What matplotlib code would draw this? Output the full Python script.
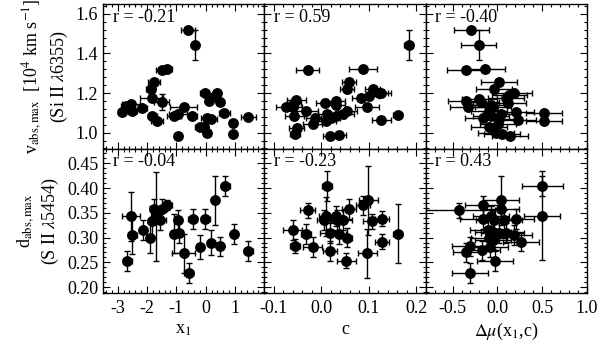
import matplotlib
matplotlib.use("Agg")
import matplotlib.pyplot as plt
from matplotlib.ticker import MultipleLocator, FixedLocator

plt.rcParams['font.family'] = ['Liberation Serif', 'DejaVu Serif']
plt.rcParams['mathtext.fontset'] = 'stix'

# ---------------- data ----------------
# top row: v_abs,max vs x1
tl_x = [-2.85, -2.70, -2.55, -2.50, -2.16, -1.87, -1.84, -1.76, -1.50, -1.82, -1.65, -1.48, -1.31, -1.08,
        -0.94, -0.75, -0.46, -0.94, -0.60, -0.35, -0.03, 0.31, 0.38, 0.10, 0.50, 0.05, 0.19, 0.64, 0.92,
        0.93, 1.46, -0.21, -0.07, 0.05]
tl_y = [1.105, 1.135, 1.145, 1.110, 1.126, 1.222, 1.175, 1.258, 1.154, 1.084, 1.060, 1.316, 1.321, 1.084,
        1.093, 1.129, 1.084, 0.985, 1.520, 1.443, 1.200, 1.184, 1.200, 1.162, 1.154, 1.076, 1.068, 1.101,
        1.051, 0.993, 1.079, 1.030, 1.030, 0.997]
tl_xe = [0.15, 0.20, 0.30, 0.15, 0.15, 0.15, 0.40, 0.20, 0.25, 0.15, 0.20, 0.20, 0.15, 0.25,
         0.30, 0.45, 0.15, 0.10, 0.25, 0.05, 0.15, 0.15, 0.10, 0.10, 0.10, 0.20, 0.20, 0.20, 0.05,
         0.05, 0.25, 0.15, 0.15, 0.10]
tl_ye = [0.010, 0.015, 0.010, 0.010, 0.010, 0.020, 0.010, 0.010, 0.040, 0.015, 0.010, 0.010, 0.010, 0.010,
         0.010, 0.010, 0.010, 0.010, 0.010, 0.075, 0.010, 0.010, 0.010, 0.010, 0.010, 0.010, 0.010, 0.010,
         0.010, 0.010, 0.010, 0.010, 0.010, 0.010]

# top row: v_abs,max vs c
tm_x = [-0.075, -0.053, -0.057, -0.060, -0.057, -0.032, -0.029, -0.013, -0.018, -0.052, -0.055, 0.008,
        0.031, 0.031, 0.055, 0.045, 0.031, 0.013, 0.010, 0.020, 0.018, 0.038, 0.059, 0.055, 0.088, 0.108,
        0.121, 0.126, 0.101, 0.084, 0.097, 0.126, 0.161, 0.184]
tm_y = [1.130, 1.167, 1.150, 1.129, 1.084, 1.109, 1.316, 1.076, 1.043, 1.026, 0.993, 1.150,
        1.159, 1.142, 1.109, 1.093, 1.084, 1.093, 1.060, 1.076, 0.985, 0.990, 1.258, 1.222, 1.324, 1.222,
        1.200, 1.200, 1.184, 1.175, 1.129, 1.063, 1.088, 1.443]
tm_xe = [0.020, 0.020, 0.015, 0.020, 0.020, 0.025, 0.025, 0.020, 0.020, 0.015, 0.010, 0.020,
         0.020, 0.020, 0.020, 0.025, 0.020, 0.020, 0.020, 0.020, 0.015, 0.015, 0.015, 0.015, 0.030, 0.015,
         0.020, 0.020, 0.020, 0.020, 0.025, 0.020, 0.010, 0.010]
tm_ye = [0.010, 0.010, 0.010, 0.010, 0.010, 0.010, 0.010, 0.010, 0.010, 0.010, 0.010, 0.020,
         0.010, 0.010, 0.010, 0.010, 0.010, 0.015, 0.010, 0.010, 0.010, 0.010, 0.010, 0.010, 0.010, 0.010,
         0.010, 0.010, 0.010, 0.010, 0.010, 0.010, 0.010, 0.075]

# top row: v_abs,max vs delta mu
tr_x = [-0.289, -0.210, -0.345, -0.135, 0.022, -0.034, 0.190, 0.135, 0.098, -0.352, -0.333, -0.200,
        -0.180, -0.070, -0.050, -0.090, -0.165, -0.070, 0.040, 0.116, 0.210, 0.230, 0.517, 0.517, 0.022,
        0.004, -0.090, -0.015, 0.053, 0.143]
tr_y = [1.520, 1.443, 1.316, 1.321, 1.258, 1.222, 1.200, 1.192, 1.175, 1.162, 1.129, 1.170,
        1.155, 1.142, 1.129, 1.109, 1.076, 1.084, 1.093, 1.150, 1.106, 1.063, 1.101, 1.060, 1.068,
        1.043, 1.030, 0.997, 0.993, 0.985]
tr_xe = [0.20, 0.20, 0.22, 0.22, 0.20, 0.20, 0.20, 0.20, 0.20, 0.20, 0.20, 0.20,
         0.20, 0.20, 0.20, 0.20, 0.20, 0.20, 0.20, 0.20, 0.20, 0.20, 0.20, 0.20, 0.20,
         0.20, 0.20, 0.20, 0.20, 0.20]
tr_ye = [0.010, 0.075, 0.010, 0.010, 0.010, 0.010, 0.010, 0.010, 0.010, 0.010, 0.010, 0.010,
         0.010, 0.010, 0.010, 0.010, 0.010, 0.010, 0.010, 0.010, 0.010, 0.010, 0.010, 0.015, 0.010,
         0.010, 0.010, 0.010, 0.010, 0.010]

# bottom row: d_abs,max vs x1
bl_x = [-2.67, -2.55, -2.50, -2.14, -1.91, -1.82, -1.76, -1.71, -1.54, -1.48, -1.31, -0.94, -0.44, -0.01,
        -1.08, -0.92, 0.95, 0.19, 0.50, -0.21, -0.75, 1.46, -0.58, 0.31, 0.67]
bl_y = [0.253, 0.343, 0.306, 0.315, 0.299, 0.333, 0.358, 0.343, 0.336, 0.358, 0.365, 0.336, 0.338, 0.338,
        0.308, 0.310, 0.307, 0.290, 0.282, 0.281, 0.268, 0.273, 0.229, 0.375, 0.404]
bl_xe = [0.15, 0.30, 0.15, 0.10, 0.10, 0.15, 0.15, 0.15, 0.20, 0.15, 0.15, 0.10, 0.15, 0.15,
         0.15, 0.15, 0.10, 0.10, 0.10, 0.10, 0.40, 0.15, 0.15, 0.10, 0.15]
bl_ye = [0.020, 0.050, 0.040, 0.020, 0.030, 0.030, 0.020, 0.090, 0.020, 0.020, 0.010, 0.020, 0.020, 0.020,
         0.040, 0.020, 0.020, 0.025, 0.020, 0.025, 0.040, 0.020, 0.020, 0.050, 0.020]

# bottom row: d_abs,max vs c
bm_x = [-0.060, -0.032, -0.055, -0.018, -0.029, 0.012, 0.011, 0.006, 0.031, 0.045, 0.034, 0.059,
        0.018, 0.038, 0.055, 0.018, 0.053, 0.099, 0.088, 0.107, 0.128, 0.128, 0.097, 0.161]
bm_y = [0.315, 0.308, 0.283, 0.281, 0.355, 0.404, 0.343, 0.336, 0.343, 0.336, 0.335, 0.357,
        0.310, 0.308, 0.300, 0.273, 0.253, 0.375, 0.365, 0.333, 0.338, 0.292, 0.268, 0.308]
bm_xe = [0.020, 0.010, 0.010, 0.020, 0.015, 0.010, 0.015, 0.015, 0.015, 0.020, 0.015, 0.015,
         0.020, 0.015, 0.010, 0.015, 0.020, 0.020, 0.015, 0.020, 0.015, 0.015, 0.020, 0.010]
bm_ye = [0.020, 0.020, 0.015, 0.020, 0.015, 0.030, 0.040, 0.020, 0.020, 0.020, 0.020, 0.020,
         0.020, 0.020, 0.020, 0.020, 0.015, 0.070, 0.020, 0.015, 0.015, 0.015, 0.050, 0.060]

# bottom row: d_abs,max vs delta mu
br_x = [0.502, 0.502, -0.427, -0.165, 0.041, 0.041, -0.071, -0.165, -0.034, 0.079, 0.210, -0.109,
        -0.053, 0.022, 0.098, 0.190, 0.266, -0.090, -0.053, -0.307, -0.345, -0.172, -0.082, -0.022, -0.307]
br_y = [0.404, 0.344, 0.355, 0.365, 0.375, 0.358, 0.343, 0.338, 0.336, 0.336, 0.338, 0.316,
        0.312, 0.309, 0.309, 0.306, 0.292, 0.299, 0.296, 0.282, 0.270, 0.274, 0.281, 0.253, 0.229]
br_xe = [0.23, 0.20, 0.40, 0.20, 0.20, 0.20, 0.20, 0.25, 0.20, 0.20, 0.20, 0.20,
         0.20, 0.20, 0.20, 0.20, 0.20, 0.20, 0.20, 0.20, 0.15, 0.20, 0.20, 0.20, 0.20]
br_ye = [0.020, 0.090, 0.015, 0.020, 0.050, 0.020, 0.020, 0.020, 0.020, 0.020, 0.020, 0.020,
         0.020, 0.020, 0.020, 0.020, 0.020, 0.020, 0.020, 0.020, 0.020, 0.020, 0.020, 0.020, 0.020]

r_values = [["r = -0.21", "r = 0.59", "r = -0.40"],
            ["r = -0.04", "r = -0.23", "r = 0.43"]]
x_labels = [r"x$_1$", "c", r"$\Delta\mu$(x$_1$,c)"]
y_labels = [r"v$_{\rm abs,max}$  [10$^4$ km s$^{-1}$]" + "\n" + r"(Si II $\lambda$6355)",
            r"d$_{\rm abs,max}$" + "\n" + r"(S II $\lambda$5454)"]

x_ticks = [[-3, -2, -1, 0, 1], [-0.1, 0.0, 0.1, 0.2], [-0.5, 0.0, 0.5, 1.0]]
x_ticklabels = [["-3", "-2", "-1", "0", "1"], ["-0.1", "0.0", "0.1", "0.2"], ["-0.5", "0.0", "0.5", "1.0"]]
x_lims = [(-3.5, 2.0), (-0.12, 0.22), (-0.8, 1.0)]
x_minor = [0.2, 0.02, 0.1]
y_ticks = [[1.0, 1.2, 1.4, 1.6], [0.20, 0.25, 0.30, 0.35, 0.40, 0.45]]
y_ticklabels = [["1.0", "1.2", "1.4", "1.6"], ["0.20", "0.25", "0.30", "0.35", "0.40", "0.45"]]
y_lims = [(0.92, 1.65), (0.188, 0.48)]
y_minor = [0.04, 0.01]

panels = [[(tl_x, tl_y, tl_xe, tl_ye), (tm_x, tm_y, tm_xe, tm_ye), (tr_x, tr_y, tr_xe, tr_ye)],
          [(bl_x, bl_y, bl_xe, bl_ye), (bm_x, bm_y, bm_xe, bm_ye), (br_x, br_y, br_xe, br_ye)]]

# ---------------- figure ----------------
fig = plt.figure(figsize=(6.0, 3.55), dpi=100)
gs = fig.add_gridspec(2, 3, left=103/600, right=587/600, top=1-4/355, bottom=1-293/355,
                      wspace=0, hspace=0)

for i in range(2):
    for j in range(3):
        ax = fig.add_subplot(gs[i, j])
        x, y, xe, ye = panels[i][j]
        ax.errorbar(x, y, xerr=xe, yerr=ye, fmt='o', color='black', ms=6.8,
                    elinewidth=1.0, capsize=2.5, capthick=1.0)
        ax.set_xlim(*x_lims[j])
        ax.set_ylim(*y_lims[i])
        ax.xaxis.set_major_locator(FixedLocator(x_ticks[j]))
        ax.xaxis.set_minor_locator(MultipleLocator(x_minor[j]))
        ax.yaxis.set_major_locator(FixedLocator(y_ticks[i]))
        ax.yaxis.set_minor_locator(MultipleLocator(y_minor[i]))
        ax.tick_params(which='both', direction='in', top=True, right=True, width=0.8)
        ax.tick_params(which='major', length=5)
        ax.tick_params(which='minor', length=2.5)
        ax.tick_params(axis='x', pad=5)
        for s in ax.spines.values():
            s.set_linewidth(1.0)
        if i == 1:
            ax.set_xticklabels(x_ticklabels[j], fontsize=13)
            ax.set_xlabel(x_labels[j], fontsize=13, labelpad=3)
        else:
            ax.set_xticklabels([])
        if j == 0:
            ax.set_yticklabels(y_ticklabels[i], fontsize=13)
            ax.set_ylabel(y_labels[i], fontsize=13, labelpad=4, linespacing=1.3)
        else:
            ax.set_yticklabels([])
        ax.text(0.06, 0.91, r_values[i][j], transform=ax.transAxes, fontsize=13,
                ha='left', va='center')

fig.savefig("out.png", dpi=100)
